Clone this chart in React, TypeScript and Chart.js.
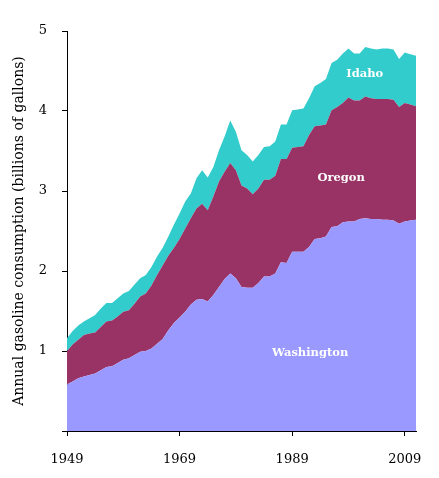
import React, { useEffect, useRef } from "react";
import { Chart, registerables } from "chart.js";

Chart.register(...registerables);

const years: number[] = [];
for (let y = 1949; y <= 2011; y++) years.push(y);

const washington = [
  0.58, 0.62, 0.66, 0.68, 0.70, 0.72, 0.76, 0.80, 0.81, 0.85,
  0.89, 0.91, 0.95, 0.99, 1.00, 1.03, 1.09, 1.15, 1.26, 1.35,
  1.42, 1.49, 1.58, 1.64, 1.65, 1.62, 1.70, 1.80, 1.90, 1.97,
  1.91, 1.80, 1.79, 1.79, 1.85, 1.93, 1.93, 1.97, 2.11, 2.10,
  2.24, 2.24, 2.24, 2.30, 2.40, 2.41, 2.43, 2.55, 2.56, 2.61,
  2.62, 2.62, 2.65, 2.66, 2.65, 2.65, 2.64, 2.64, 2.63, 2.59,
  2.62, 2.63, 2.64,
];

const oregon = [
  0.42, 0.46, 0.48, 0.52, 0.52, 0.51, 0.54, 0.57, 0.57, 0.58,
  0.60, 0.60, 0.64, 0.69, 0.72, 0.79, 0.86, 0.92, 0.93, 0.94,
  0.98, 1.04, 1.08, 1.14, 1.19, 1.14, 1.23, 1.32, 1.34, 1.38,
  1.35, 1.27, 1.24, 1.17, 1.18, 1.21, 1.21, 1.22, 1.29, 1.30,
  1.30, 1.31, 1.32, 1.40, 1.41, 1.41, 1.40, 1.46, 1.49, 1.49,
  1.55, 1.51, 1.48, 1.52, 1.51, 1.50, 1.51, 1.51, 1.51, 1.46,
  1.48, 1.45, 1.42,
];

const idaho = [
  0.16, 0.17, 0.18, 0.17, 0.19, 0.22, 0.23, 0.23, 0.22, 0.23,
  0.23, 0.24, 0.24, 0.23, 0.23, 0.23, 0.23, 0.22, 0.24, 0.29,
  0.32, 0.34, 0.31, 0.38, 0.42, 0.41, 0.37, 0.39, 0.44, 0.53,
  0.48, 0.44, 0.42, 0.41, 0.42, 0.41, 0.42, 0.43, 0.43, 0.43,
  0.47, 0.47, 0.47, 0.46, 0.50, 0.53, 0.57, 0.59, 0.59, 0.62,
  0.61, 0.59, 0.59, 0.62, 0.62, 0.62, 0.63, 0.63, 0.63, 0.60,
  0.63, 0.63, 0.63,
];

const xTickYears = [1949, 1969, 1989, 2009];
const yTickValues = [0, 1, 2, 3, 4, 5];

// In-chart series labels, anchored in data coordinates (year, value)
const labelNames = ["Washington", "Oregon", "Idaho"];
const labelYears = [1992.2, 1997.7, 2001.9];
const labelValues = [0.97, 3.16, 4.46];

const FONT = "'DejaVu Serif', serif";

const seriesLabelPlugin = {
  id: "seriesLabels",
  afterDatasetsDraw(chart: any) {
    const ctx = chart.ctx;
    const xs = chart.scales.x;
    const ys = chart.scales.y;
    ctx.save();
    ctx.fillStyle = "#ffffff";
    ctx.font = `bold 11.5px ${FONT}`;
    ctx.textAlign = "center";
    ctx.textBaseline = "middle";
    labelNames.forEach((name, i) => {
      ctx.fillText(name, xs.getPixelForValue(labelYears[i]), ys.getPixelForValue(labelValues[i]));
    });
    ctx.restore();
  },
};

export default function App() {
  const ref = useRef<HTMLCanvasElement | null>(null);

  useEffect(() => {
    document.body.style.margin = "0";
    const canvas = ref.current;
    if (!canvas) return;
    const mk = (vals: number[]) => vals.map((v, i) => ({ x: years[i], y: v }));
    const chart = new Chart(canvas, {
      type: "line",
      data: {
        datasets: [
          {
            label: "Washington",
            data: mk(washington),
            backgroundColor: "#9999ff",
            borderWidth: 0,
            pointRadius: 0,
            fill: "origin",
            tension: 0,
          },
          {
            label: "Oregon",
            data: mk(oregon),
            backgroundColor: "#993366",
            borderWidth: 0,
            pointRadius: 0,
            fill: "-1",
            tension: 0,
          },
          {
            label: "Idaho",
            data: mk(idaho),
            backgroundColor: "#33cccc",
            borderWidth: 0,
            pointRadius: 0,
            fill: "-1",
            tension: 0,
          },
        ],
      },
      options: {
        animation: false,
        responsive: false,
        maintainAspectRatio: false,
        layout: { padding: { top: 31, right: 23, left: 0, bottom: 0 } },
        plugins: {
          legend: { display: false },
          tooltip: { enabled: false },
        },
        scales: {
          x: {
            type: "linear",
            min: 1949,
            max: 2011,
            afterBuildTicks: (s: any) => {
              s.ticks = xTickYears.map((v) => ({ value: v }));
            },
            afterFit: (s: any) => {
              s.height = 47;
            },
            ticks: {
              color: "#000",
              font: { family: FONT, size: 13 },
              padding: 16,
              maxRotation: 0,
              autoSkip: false,
              callback: (v: any) => String(v),
            },
            grid: {
              display: true,
              drawOnChartArea: false,
              drawTicks: true,
              tickLength: 5,
              color: "#000",
            },
            border: { display: true, color: "#000", width: 1 },
          },
          y: {
            stacked: true,
            min: 0,
            max: 5,
            afterBuildTicks: (s: any) => {
              s.ticks = yTickValues.map((v) => ({ value: v }));
            },
            afterFit: (s: any) => {
              s.width = 67;
            },
            ticks: {
              color: "#000",
              font: { family: FONT, size: 13 },
              padding: 15,
              callback: (v: any) => (v === 0 ? "" : String(v)),
            },
            grid: {
              display: true,
              drawOnChartArea: false,
              drawTicks: true,
              tickLength: 5,
              color: "#000",
            },
            border: { display: true, color: "#000", width: 1 },
            title: {
              display: true,
              text: "Annual gasoline consumption (billions of gallons)",
              color: "#000",
              font: { family: FONT, size: 14 },
              padding: { top: 11, bottom: 0 },
            },
          },
        },
      },
      plugins: [seriesLabelPlugin],
    });
    return () => chart.destroy();
  }, []);

  return (
    <div style={{ position: "relative", width: 439, height: 478 }}>
      <canvas ref={ref} width={439} height={478} style={{ width: 439, height: 478 }} />
    </div>
  );
}
